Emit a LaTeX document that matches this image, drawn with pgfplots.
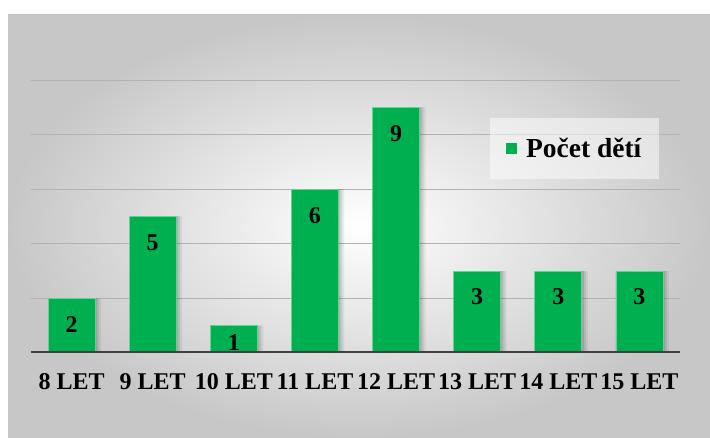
\documentclass[border=0pt]{standalone}
\usepackage{fontspec}
\setmainfont{Liberation Serif}
\usepackage{pgfplots}
\usepackage{pgfplotstable}
\pgfplotsset{compat=1.18}
\definecolor{barg}{HTML}{00B050}
\pgfplotstableread{
x y off
0 2 -26
1 5 -26
2 1 -17
3 6 -26
4 9 -26
5 3 -26
6 3 -26
7 3 -26
}\datatab
\begin{document}
\begin{tikzpicture}[x=1pt,y=1pt]
\path[use as bounding box] (0,0) rectangle (710,438);
\shade[inner color=white, outer color=black!22] (8,0) rectangle (710,423);
\draw[black!25, line width=1pt] (8,423) -- (710,423);
\begin{axis}[
  at={(31pt,85pt)}, anchor=south west,
  scale only axis, width=649pt, height=273pt,
  xmin=-0.5, xmax=7.5, ymin=0, ymax=10,
  axis line style={draw=none},
  major tick length=0pt,
  /pgf/number format/assume math mode=true,
  ytick={2,4,6,8,10}, yticklabels={},
  ymajorgrids, grid style={black!30, line width=0.9pt},
  xtick={0,...,7},
  xticklabels={8 LET,9 LET,10 LET,11 LET,12 LET,13 LET,14 LET,15 LET},
  xticklabel style={font=\bfseries\fontsize{24}{28}\selectfont, yshift=-17pt},
  ybar, 
  legend style={at={(0.707,0.861)}, anchor=north west, fill=white, fill opacity=0.5, text opacity=1, draw=none,
    font=\bfseries\fontsize{27.5}{30}\selectfont, inner xsep=16pt, inner ysep=18pt},
  legend image code/.code={\path[fill=barg, draw=none, fill opacity=1] (0pt,-5.5pt) rectangle (11pt,5.5pt); \path[draw=none] (0pt,0pt) -- (18pt,0pt);},
]
\addplot[ybar, bar width=47pt, bar shift=2pt, fill=black, fill opacity=0.10, draw=none, forget plot] table[x=x,y=y] {\datatab};
\addplot[ybar, bar width=47pt, bar shift=4pt, fill=black, fill opacity=0.08, draw=none, forget plot] table[x=x,y=y] {\datatab};
\addplot[ybar, bar width=47pt, bar shift=6pt, fill=black, fill opacity=0.06, draw=none, forget plot] table[x=x,y=y] {\datatab};
\addplot[ybar, bar width=47pt, bar shift=0pt, fill=barg, draw=barg!60!white, line width=0.8pt,
  visualization depends on={\thisrow{off}\as\myoff},
  nodes near coords,
  every node near coord/.append style={anchor=center, yshift=\myoff pt, font=\bfseries\fontsize{24}{24}\selectfont, text=black}]
  table[x=x,y=y] {\datatab};
\addlegendentry{Počet dětí}
\draw[line width=4pt, black!75] (axis cs:-0.5,0) -- (axis cs:7.5,0);
\end{axis}
\end{tikzpicture}
\end{document}
